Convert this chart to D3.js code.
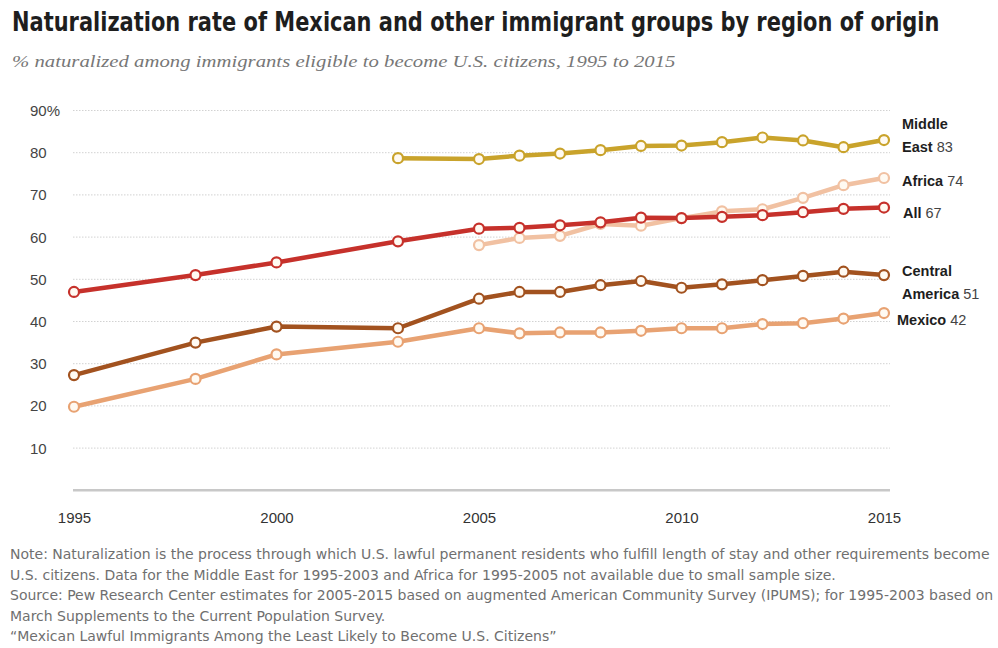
<!DOCTYPE html>
<html>
<head>
<meta charset="utf-8">
<script src="https://cdn.jsdelivr.net/npm/d3@7"></script>
<style>
  html, body { margin: 0; padding: 0; background: #fff; }
  svg { display: block; }
</style>
</head>
<body>
<svg id="chart" width="998" height="648"></svg>
<script>
// Survey years and naturalization rates (%) by region of origin
const years = [1995, 1998, 2000, 2003, 2005, 2006, 2007, 2008, 2009, 2010, 2011, 2012, 2013, 2014, 2015];
const yearsMiddleEast = [2003, 2005, 2006, 2007, 2008, 2009, 2010, 2011, 2012, 2013, 2014, 2015];
const yearsAfrica = [2005, 2006, 2007, 2008, 2009, 2010, 2011, 2012, 2013, 2014, 2015];

const allValues = [47, 51, 54, 59, 62, 62.2, 62.8, 63.5, 64.6, 64.5, 64.8, 65.2, 65.9, 66.7, 67];
const centralAmericaValues = [27.3, 35, 38.8, 38.4, 45.4, 47, 47, 48.6, 49.6, 48, 48.8, 49.8, 50.8, 51.8, 51];
const mexicoValues = [19.8, 26.4, 32.2, 35.2, 38.4, 37.2, 37.4, 37.4, 37.8, 38.4, 38.4, 39.4, 39.6, 40.7, 42];
const middleEastValues = [78.7, 78.5, 79.3, 79.8, 80.6, 81.6, 81.7, 82.5, 83.6, 82.9, 81.3, 83];
const africaValues = [58.1, 59.8, 60.3, 63.1, 62.7, 64.5, 66.1, 66.6, 69.3, 72.3, 74];

const yTicks = [10, 20, 30, 40, 50, 60, 70, 80, 90];
const xTicks = [1995, 2000, 2005, 2010, 2015];

const titleText = "Naturalization rate of Mexican and other immigrant groups by region of origin";
const subtitleText = "% naturalized among immigrants eligible to become U.S. citizens, 1995 to 2015";
const noteLines = [
  "Note: Naturalization is the process through which U.S. lawful permanent residents who fulfill length of stay and other requirements become",
  "U.S. citizens. Data for the Middle East for 1995-2003 and Africa for 1995-2005  not available due to small sample size.",
  "Source: Pew Research Center estimates for 2005-2015 based on augmented American Community Survey (IPUMS); for 1995-2003 based on",
  "March Supplements to the Current Population Survey.",
  "\u201CMexican Lawful Immigrants Among the Least Likely to Become U.S. Citizens\u201D"
];

const series = [
  { name: ["Middle", "East"], value: "83", years: yearsMiddleEast, values: middleEastValues, color: "#c9a32b", labelY: [129, 152], labelX: 902 },
  { name: ["Mexico"], value: "42", years: years, values: mexicoValues, color: "#e8a272", labelY: [325], labelX: 897 },
  { name: ["Central", "America"], value: "51", years: years, values: centralAmericaValues, color: "#a2521f", labelY: [276, 299], labelX: 902 },
  { name: ["Africa"], value: "74", years: yearsAfrica, values: africaValues, color: "#f1c1a2", labelY: [186], labelX: 902 },
  { name: ["All"], value: "67", years: years, values: allValues, color: "#c6312b", labelY: [218], labelX: 903 }
];

const svg = d3.select("#chart");

const x = d3.scaleLinear().domain([1995, 2015]).range([74, 884]);
const y = d3.scaleLinear().domain([0, 90]).range([490.3, 110.5]);

// Squeeze a text block horizontally so its widest line spans the given width
function condense(group, texts, target) {
  const w = d3.max(texts, t => t.node().getComputedTextLength());
  return target / w;
}

// Title (condensed bold)
const titleG = svg.append("g");
const title = titleG.append("text")
  .attr("x", 0).attr("y", 0)
  .attr("font-family", "'Liberation Sans Narrow', 'DejaVu Sans Condensed', Arial, sans-serif")
  .attr("font-weight", "bold")
  .attr("font-size", 27)
  .attr("fill", "#1e1e1e")
  .text(titleText);
titleG.attr("transform", `translate(12,31) scale(${condense(titleG, [title], 928)},1)`);

// Subtitle (italic serif)
const subG = svg.append("g");
const subtitle = subG.append("text")
  .attr("x", 0).attr("y", 0)
  .attr("font-family", "'Liberation Serif', 'DejaVu Serif', Georgia, serif")
  .attr("font-style", "italic")
  .attr("font-size", 17)
  .attr("fill", "#777")
  .text(subtitleText);
subG.attr("transform", `translate(12,67) scale(${condense(subG, [subtitle], 664)},1)`);

// Gridlines
svg.append("g")
  .selectAll("line")
  .data(yTicks)
  .join("line")
  .attr("x1", 73).attr("x2", 890)
  .attr("y1", d => y(d)).attr("y2", d => y(d))
  .attr("stroke", "#d2d2d2")
  .attr("stroke-width", 1)
  .attr("stroke-dasharray", "1.5,1.5");

// Baseline axis with year labels
const xAxis = d3.axisBottom(x)
  .tickValues(xTicks)
  .tickFormat(d3.format("d"))
  .tickSize(0)
  .tickPadding(22);
const gx = svg.append("g").attr("transform", `translate(0,${y(0)})`).call(xAxis);
gx.select(".domain").remove();
gx.selectAll("text")
  .attr("font-family", "'Liberation Sans', Arial, sans-serif")
  .attr("font-size", 15)
  .attr("fill", "#333");
svg.append("line")
  .attr("x1", 73).attr("x2", 890)
  .attr("y1", y(0)).attr("y2", y(0))
  .attr("stroke", "#c8c8c8")
  .attr("stroke-width", 2.5);

// Y tick labels
svg.append("g")
  .selectAll("text")
  .data(yTicks)
  .join("text")
  .attr("x", 30)
  .attr("y", d => y(d) + 5.5)
  .attr("font-family", "'Liberation Sans', Arial, sans-serif")
  .attr("font-size", 15)
  .attr("fill", "#444")
  .text(d => d === 90 ? "90%" : d);

// Lines and markers
const line = d3.line().x(d => x(d[0])).y(d => y(d[1]));

series.forEach(s => {
  const pts = s.years.map((yr, i) => [yr, s.values[i]]);
  const g = svg.append("g");
  g.append("path")
    .datum(pts)
    .attr("d", line)
    .attr("fill", "none")
    .attr("stroke", s.color)
    .attr("stroke-width", 4.5)
    .attr("stroke-linejoin", "round");
  g.selectAll("circle")
    .data(pts)
    .join("circle")
    .attr("cx", d => x(d[0]))
    .attr("cy", d => y(d[1]))
    .attr("r", 5)
    .attr("fill", "#fffaf2")
    .attr("stroke", s.color)
    .attr("stroke-width", 2.2);
});

// End labels
series.forEach(s => {
  s.name.forEach((part, i) => {
    const t = svg.append("text")
      .attr("x", s.labelX)
      .attr("y", s.labelY[i])
      .attr("font-family", "'Liberation Sans', Arial, sans-serif")
      .attr("font-size", 14.5);
    t.append("tspan")
      .attr("font-weight", "bold")
      .attr("fill", "#1e1e1e")
      .text(part);
    if (i === s.name.length - 1) {
      t.append("tspan")
        .attr("fill", "#444")
        .text(" " + s.value);
    }
  });
});

// Notes (condensed, widest line kept inside the page)
const noteBase = [559, 580, 600, 621, 641];
const notesG = svg.append("g")
  .attr("font-family", "'Liberation Sans Narrow', 'DejaVu Sans Condensed', Arial, sans-serif")
  .attr("font-size", 14)
  .attr("fill", "#6f6f6f");
const noteTexts = noteLines.map((ln, i) =>
  notesG.append("text")
    .attr("x", 0)
    .attr("y", noteBase[i] - noteBase[0])
    .text(ln)
);
notesG.attr("transform", `translate(10,${noteBase[0]}) scale(${condense(notesG, noteTexts, 984)},1)`);
</script>
</body>
</html>
